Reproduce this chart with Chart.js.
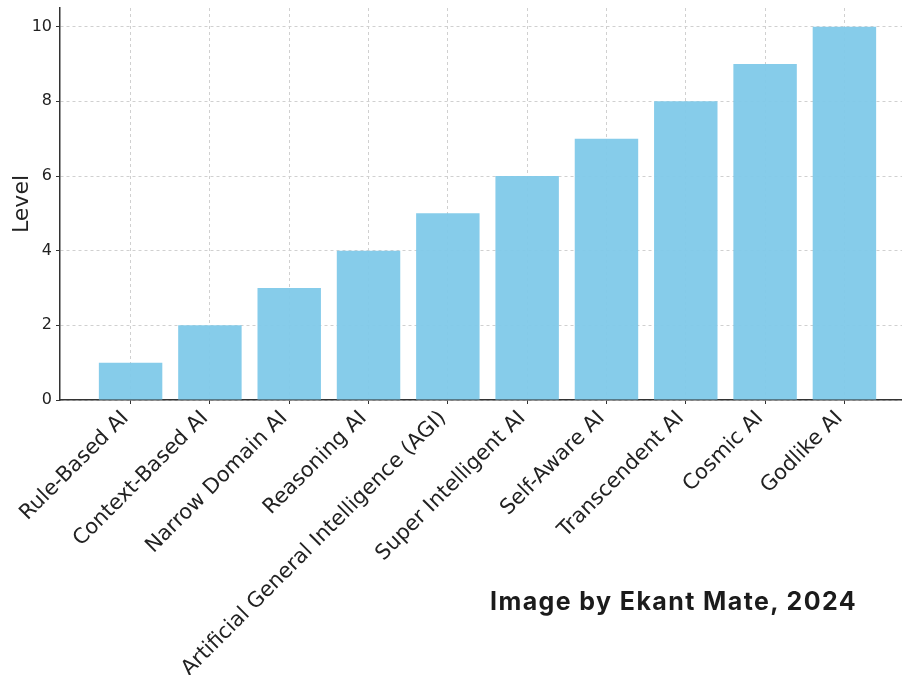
<!DOCTYPE html>
<html>
<head>
<meta charset="utf-8">
<script src="https://cdn.jsdelivr.net/npm/chart.js@4/dist/chart.umd.min.js"></script>
<style>
  html, body { margin: 0; padding: 0; background: #fff; overflow: hidden; }
  #wrap { position: absolute; left: 0; top: 0; width: 915px; height: 675px; }
  #credit {
    position: absolute; left: 490px; top: 586px;
    font-family: Inter, "Open Sans", sans-serif; font-weight: 700;
    font-size: 25px; letter-spacing: 1.4px; color: #1b1b1b; white-space: nowrap;
  }
</style>
</head>
<body>
<div id="wrap"><canvas id="myChart" width="915" height="675"></canvas></div>
<div id="credit">Image by Ekant Mate, 2024</div>
<script>
var categories = [
    "Rule-Based AI",
    "Context-Based AI",
    "Narrow Domain AI",
    "Reasoning AI",
    "Artificial General Intelligence (AGI)",
    "Super Intelligent AI",
    "Self-Aware AI",
    "Transcendent AI",
    "Cosmic AI",
    "Godlike AI"
];
var levels = [1, 2, 3, 4, 5, 6, 7, 8, 9, 10];
var yTicks = [0, 2, 4, 6, 8, 10];

function main() {
    document.addEventListener("DOMContentLoaded", () => {
        chart();
    }, false);
};

function chart() {
    var ctx = document.getElementById('myChart').getContext('2d');
    var gridOpts = {
        offset: false,
        color: '#d0d0d0',
        lineWidth: 1,
        tickLength: 4,
        tickColor: '#333',
        tickWidth: 1
    };

    new Chart(ctx, {
        type: 'bar',
        data: {
            datasets: [{
                label: 'Level',
                data: levels.map((v, i) => ({ x: i, y: v })),
                backgroundColor: 'rgba(128, 201, 233, 0.95)',
                borderWidth: 0,
                categoryPercentage: 1,
                barPercentage: 0.8
            }]
        },
        options: {
            responsive: false,
            animation: false,
            layout: { padding: { top: 8, left: 0, right: 0, bottom: 0 } },
            plugins: {
                legend: { display: false },
                tooltip: { enabled: false }
            },
            scales: {
                x: {
                    type: 'linear',
                    offset: false,
                    min: -0.89,
                    max: 9.89,
                    afterBuildTicks: (scale) => {
                        scale.ticks = categories.map((c, i) => ({ value: i }));
                    },
                    afterFit: (scale) => {
                        scale.height = 275;
                        scale.paddingLeft = 0;
                        scale.paddingRight = 0;
                    },
                    ticks: {
                        autoSkip: false,
                        maxRotation: 45,
                        minRotation: 45,
                        padding: 2,
                        labelOffset: -5,
                        color: '#222',
                        font: { family: "'DejaVu Sans'", size: 21 },
                        callback: (value) => categories[value]
                    },
                    grid: gridOpts,
                    border: { color: '#333', width: 1.5, dash: [3, 3] }
                },
                y: {
                    min: 0,
                    max: 10.5,
                    afterBuildTicks: (scale) => {
                        scale.ticks = yTicks.map(v => ({ value: v }));
                    },
                    afterFit: (scale) => {
                        scale.width = 60;
                        scale.paddingTop = 0;
                        scale.paddingBottom = 0;
                    },
                    ticks: {
                        padding: 4,
                        color: '#222',
                        font: { family: "'DejaVu Sans'", size: 16 }
                    },
                    grid: gridOpts,
                    border: { color: '#333', width: 1.5, dash: [3, 3] },
                    title: {
                        display: true,
                        text: 'Level',
                        color: '#222',
                        font: { family: "'DejaVu Sans'", size: 22 },
                        padding: { top: 9, bottom: 0 }
                    }
                }
            }
        }
    });
};

main();
</script>
</body>
</html>
